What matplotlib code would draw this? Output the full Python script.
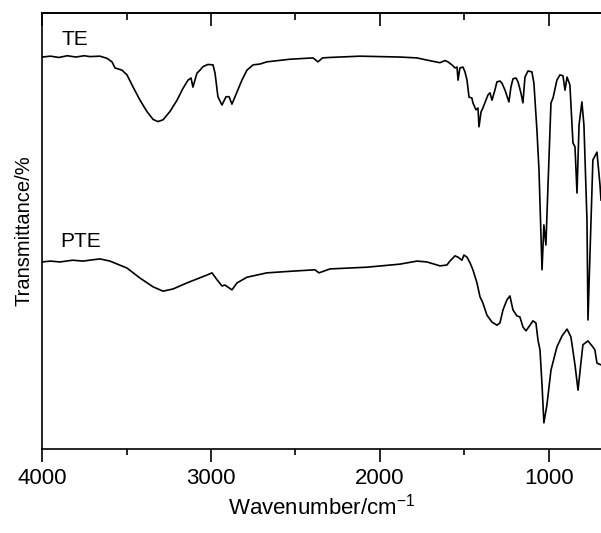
import numpy as np
import matplotlib.pyplot as plt
from matplotlib.ticker import MultipleLocator

plt.rcParams["font.family"] = ["Liberation Sans", "DejaVu Sans"]

# ── Data (transmittance in arbitrary % units) ──────────────────────────────────
te_wn = [4000, 3950, 3900, 3850, 3800, 3750, 3716, 3657, 3615, 3586, 3568, 3527,
         3497, 3462, 3420, 3379, 3343, 3314, 3284, 3243, 3201, 3166, 3136, 3118,
         3107, 3083, 3065, 3047, 3018, 2988, 2976, 2959, 2935, 2911, 2893, 2876,
         2846, 2817, 2787, 2751, 2710, 2669, 2533, 2396, 2367, 2340, 2300, 2118,
         1882, 1781, 1722, 1645, 1615, 1598, 1574, 1556, 1544, 1538, 1527, 1509,
         1497, 1485, 1473, 1456, 1450, 1432, 1420, 1414, 1402, 1391, 1379, 1361,
         1349, 1337, 1320, 1308, 1290, 1278, 1260, 1237, 1225, 1213, 1195, 1183,
         1166, 1154, 1142, 1124, 1101, 1089, 1071, 1059, 1041, 1030, 1018, 1006,
         988, 976, 953, 935, 917, 905, 893, 876, 858, 846, 834, 822, 805, 793,
         775, 769, 757, 740, 716, 698, 692]
te_t = [89.9, 90.1, 89.8, 90.2, 89.9, 90.2, 90.0, 90.1, 89.6, 88.8, 87.4, 86.9,
        85.8, 83.1, 80.0, 77.4, 75.6, 75.1, 75.5, 77.4, 80.0, 82.7, 84.6, 85.1,
        83.0, 86.2, 86.9, 87.7, 88.2, 88.1, 86.2, 80.8, 78.9, 80.8, 80.8, 79.1,
        81.9, 84.6, 86.9, 88.1, 88.3, 88.8, 89.4, 89.7, 88.8, 89.7, 89.8, 90.1,
        89.9, 89.7, 89.2, 88.6, 89.1, 88.8, 88.1, 87.4, 87.6, 84.6, 87.4, 87.6,
        86.5, 84.6, 80.7, 80.5, 79.4, 77.8, 78.2, 73.9, 77.3, 78.2, 79.4, 81.2,
        81.7, 80.0, 82.3, 84.2, 84.4, 83.9, 82.3, 79.6, 83.0, 84.9, 85.1, 84.2,
        81.7, 79.4, 85.3, 86.7, 86.5, 83.9, 73.0, 64.0, 41.1, 51.4, 46.8, 60.1,
        79.4, 80.5, 84.6, 85.8, 85.6, 82.3, 85.3, 83.5, 70.2, 69.3, 58.7, 74.3,
        79.6, 74.3, 52.5, 29.6, 45.0, 66.3, 68.1, 60.6, 57.1]

pte_wn = [4000, 3950, 3893, 3820, 3757, 3700, 3657, 3598, 3497, 3420, 3343, 3284,
          3225, 3142, 3083, 3024, 2994, 2964, 2935, 2917, 2876, 2846, 2787, 2669,
          2515, 2385, 2361, 2296, 2077, 1882, 1781, 1722, 1645, 1604, 1586, 1556,
          1538, 1515, 1503, 1485, 1467, 1450, 1426, 1408, 1391, 1367, 1337, 1308,
          1290, 1272, 1249, 1231, 1213, 1189, 1172, 1154, 1136, 1112, 1095, 1077,
          1065, 1053, 1041, 1030, 1012, 988, 953, 923, 893, 870, 846, 828, 811,
          799, 769, 740, 728, 716, 692]
pte_t = [42.9, 43.1, 42.9, 43.3, 43.1, 43.4, 43.6, 43.1, 41.5, 39.2, 37.2, 36.2,
         36.7, 38.1, 39.0, 39.9, 40.4, 38.8, 37.4, 37.6, 36.5, 38.1, 39.4, 40.4,
         40.8, 41.1, 40.4, 41.3, 41.7, 42.4, 43.1, 42.9, 42.0, 42.2, 43.1, 44.3,
         44.0, 43.3, 44.5, 44.0, 42.7, 41.1, 38.1, 34.9, 33.5, 30.7, 29.1, 28.4,
         28.9, 31.9, 34.2, 35.1, 31.9, 30.5, 30.3, 28.0, 27.1, 28.4, 29.4, 28.9,
         25.0, 22.7, 14.7, 6.0, 10.1, 18.1, 23.4, 25.9, 27.5, 25.7, 19.3, 13.5, 19.7,
         23.9, 24.8, 23.4, 22.7, 19.7, 19.3]

# ── Plot ──────────────────────────────────────────────────────────────────────
fig = plt.figure(figsize=(6.01, 5.33), dpi=100)
ax = fig.add_axes([0.0699, 0.1576, 0.9301, 0.818])

ax.plot(te_wn, te_t, color="black", linewidth=1.2)
ax.plot(pte_wn, pte_t, color="black", linewidth=1.2)

ax.text(3882, 92.7, "TE", fontsize=15, va="baseline", ha="left")
ax.text(3893, 46.3, "PTE", fontsize=15, va="baseline", ha="left")

ax.set_xlim(4000, 692)
ax.set_ylim(0, 100)

ax.xaxis.set_major_locator(MultipleLocator(1000))
ax.xaxis.set_minor_locator(MultipleLocator(500))
ax.tick_params(axis="x", which="major", direction="out", length=9, width=1.2,
               labelsize=16, pad=5)
ax.tick_params(axis="x", which="minor", direction="out", length=4.5, width=1.2)
ax.set_yticks([])
ax.spines["right"].set_visible(False)
for s in ("left", "bottom", "top"):
    ax.spines[s].set_linewidth(1.2)

top = ax.secondary_xaxis("top")
top.xaxis.set_major_locator(MultipleLocator(1000))
top.xaxis.set_minor_locator(MultipleLocator(500))
top.tick_params(axis="x", which="major", direction="in", length=9, width=1.2,
                labeltop=False)
top.tick_params(axis="x", which="minor", direction="in", length=5, width=1.2)
top.spines["top"].set_linewidth(1.2)

ax.set_xlabel("Wavenumber/cm$^{\\mathregular{-1}}$", fontsize=16, labelpad=3)
ax.set_ylabel("Transmittance/%", fontsize=14.5, labelpad=6)

fig.savefig("out.png", dpi=100)
